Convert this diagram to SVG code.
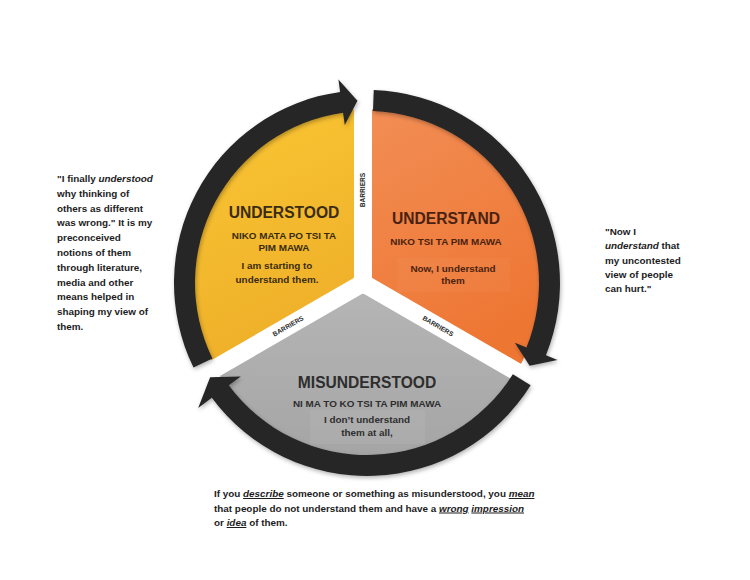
<svg xmlns="http://www.w3.org/2000/svg" width="750" height="580" viewBox="0 0 750 580">
  <defs>
    <linearGradient id="gYellow" x1="0" y1="0" x2="0.3" y2="1">
      <stop offset="0" stop-color="#FAC634"/>
      <stop offset="1" stop-color="#EEAF29"/>
    </linearGradient>
    <linearGradient id="gOrange" x1="0" y1="0" x2="0.4" y2="1">
      <stop offset="0" stop-color="#F28E55"/>
      <stop offset="1" stop-color="#EE7633"/>
    </linearGradient>
    <linearGradient id="gGray" x1="0" y1="0" x2="0" y2="1">
      <stop offset="0" stop-color="#B6B6B6"/>
      <stop offset="1" stop-color="#A5A5A5"/>
    </linearGradient>
    <filter id="shadow" x="-10%" y="-10%" width="120%" height="120%">
      <feDropShadow dx="1" dy="2" stdDeviation="2" flood-color="#000" flood-opacity="0.3"/>
    </filter>
  </defs>
  <style>
    text { font-family: "Liberation Sans", Arial, sans-serif; font-weight: bold; }
    .title { font-size: 15.6px; text-anchor: middle; }
    .sub { font-size: 9.9px; text-anchor: middle; }
    .body { font-size: 9.9px; fill: #1c1c1c; }
    .barrier { font-size: 6.6px; fill: #2a2a2a; text-anchor: middle; }
    .arc { fill: #262626; filter: url(#shadow); }
    .strip { stroke: #fff; stroke-width: 18; fill: none; }
    .it { font-style: italic; }
    .ul { font-style: italic; text-decoration: underline; }
  </style>
  <rect width="750" height="580" fill="#fff"/>

  <!-- sectors -->
  <g id="node-understood">
    <path d="M363 283 L215.32 368.26 A174 174 0 0 1 363 109.05 Z" fill="url(#gYellow)"/>
  </g>
  <g id="node-understand">
    <path d="M363 283 L363 109.05 A174 174 0 0 1 516.68 371.73 Z" fill="url(#gOrange)"/>
    <rect x="397" y="258" width="113" height="34" fill="#fff" opacity="0.035"/>
  </g>
  <g id="node-misunderstood">
    <path d="M363 283 L516.68 371.73 A174 174 0 0 1 215.32 368.26 Z" fill="url(#gGray)"/>
    <rect x="310" y="410" width="115" height="34" fill="#fff" opacity="0.06"/>
  </g>

  <!-- barriers -->
  <g id="barriers">
    <line class="strip" x1="363" y1="283" x2="363" y2="86"/>
    <line class="strip" x1="363" y1="283" x2="207.1" y2="373"/>
    <line class="strip" x1="363" y1="283" x2="518.9" y2="373"/>
    <circle cx="363" cy="283" r="10.6" fill="#fff"/>
    <text class="barrier" transform="translate(363,190) rotate(-90)" y="2.4">BARRIERS</text>
    <text class="barrier" transform="translate(288,326) rotate(-30)" y="2.4">BARRIERS</text>
    <text class="barrier" transform="translate(438,326) rotate(30)" y="2.4">BARRIERS</text>
  </g>

  <!-- connectors: circular arrows -->
  <g id="connectors">
    <path class="arc" d="M193.53 367.61 A193 193 0 0 1 340.14 91.88 L338.4 79.5 L357.45 100.75 L344.8 125.05 L343.06 112.67 A172 172 0 0 0 212.41 358.40 Z"/>
    <path class="arc" d="M373.74 90.12 A193 193 0 0 1 545.94 355.30 L557.53 359.98 L529.61 365.86 L514.89 342.75 L526.48 347.43 A172 172 0 0 0 373.0 111.1 Z"/>
    <path class="arc" d="M530.67 385.27 A193 193 0 0 1 211.85 397.80 L198.18 407.91 L210.13 377.25 L240.79 376.38 L228.73 385.31 A172 172 0 0 0 512.86 374.14 Z"/>
  </g>

  <!-- sector texts -->
  <g id="text-understood">
    <text class="title" x="284" y="218" fill="#3a2c12">UNDERSTOOD</text>
    <text class="sub" x="284" y="239" fill="#3a2c12">NIKO MATA PO TSI TA</text>
    <text class="sub" x="284" y="251" fill="#3a2c12">PIM MAWA</text>
    <text class="sub" x="277" y="269" fill="#3a2c12">I am starting to</text>
    <text class="sub" x="277" y="283" fill="#3a2c12">understand them.</text>
  </g>
  <g id="text-understand">
    <text class="title" x="446" y="224" fill="#4a2210">UNDERSTAND</text>
    <text class="sub" x="446" y="245" fill="#4a2210">NIKO TSI TA PIM MAWA</text>
    <text class="sub" x="453" y="272" fill="#4a2210">Now, I understand</text>
    <text class="sub" x="453" y="284" fill="#4a2210">them</text>
  </g>
  <g id="text-misunderstood">
    <text class="title" x="367" y="388" fill="#2e2e2e">MISUNDERSTOOD</text>
    <text class="sub" x="367" y="407" fill="#2e2e2e">NI MA TO KO TSI TA PIM MAWA</text>
    <text class="sub" x="367" y="423" fill="#2e2e2e">I don’t understand</text>
    <text class="sub" x="367" y="436" fill="#2e2e2e">them at all,</text>
  </g>

  <!-- side notes -->
  <g id="note-left">
    <text class="body" x="57" y="182">"I finally <tspan class="it">understood</tspan></text>
    <text class="body" x="57" y="196.8">why thinking of</text>
    <text class="body" x="57" y="211.6">others as different</text>
    <text class="body" x="57" y="226.4">was wrong." It is my</text>
    <text class="body" x="57" y="241.2">preconceived</text>
    <text class="body" x="57" y="256">notions of them</text>
    <text class="body" x="57" y="270.8">through literature,</text>
    <text class="body" x="57" y="285.6">media and other</text>
    <text class="body" x="57" y="300.4">means helped in</text>
    <text class="body" x="57" y="315.2">shaping my view of</text>
    <text class="body" x="57" y="330">them.</text>
  </g>
  <g id="note-right">
    <text class="body" x="605" y="235">"Now I</text>
    <text class="body" x="605" y="249.3"><tspan class="it">understand</tspan> that</text>
    <text class="body" x="605" y="263.6">my uncontested</text>
    <text class="body" x="605" y="277.9">view of people</text>
    <text class="body" x="605" y="292.2">can hurt."</text>
  </g>
  <g id="note-bottom">
    <text class="body" x="214" y="497">If you <tspan class="ul">describe</tspan> someone or something as misunderstood, you <tspan class="ul">mean</tspan></text>
    <text class="body" x="214" y="511.5">that people do not understand them and have a <tspan class="ul">wrong</tspan> <tspan class="ul">impression</tspan></text>
    <text class="body" x="214" y="526">or <tspan class="ul">idea</tspan> of them.</text>
  </g>
</svg>
